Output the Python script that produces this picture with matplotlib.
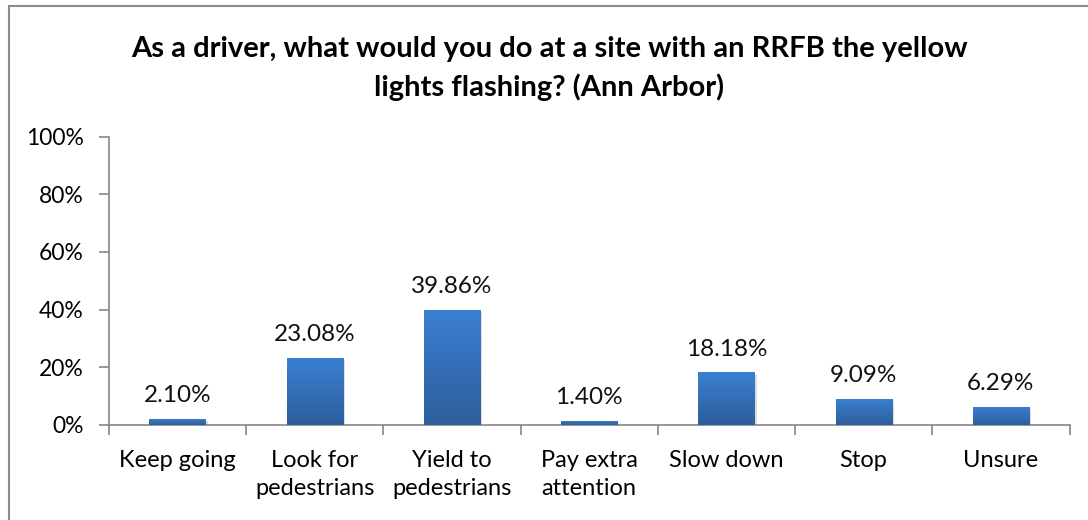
import numpy as np
import matplotlib.pyplot as plt
from matplotlib.lines import Line2D
from matplotlib.colors import LinearSegmentedColormap
import matplotlib.patheffects as pe

plt.rcParams['font.family'] = ['Lato', 'DejaVu Sans']

# survey answers
categories = ['Keep going', 'Look for\npedestrians', 'Yield to\npedestrians',
              'Pay extra\nattention', 'Slow down', 'Stop', 'Unsure']
shares = [2.10, 23.08, 39.86, 1.40, 18.18, 9.09, 6.29]
yticks = [0, 20, 40, 60, 80, 100]

fig = plt.figure(figsize=(10.88, 5.2), dpi=100)
ax = fig.add_axes([0.100, 0.183, 0.883, 0.554])

x = np.arange(len(categories))
bars = ax.bar(x, shares, width=0.41, color='#3570bd', zorder=2,
              path_effects=[pe.SimplePatchShadow(offset=(1.5, -1.5), shadow_rgbFace='#b0b0b0', alpha=0.45),
                            pe.Normal()])

# vertical gradient on each bar (lighter top, darker bottom)
grad = np.linspace(0, 1, 100).reshape(-1, 1)
cmap = LinearSegmentedColormap.from_list('b', ['#2d5e9c', '#3b7fd2'])
for b in bars:
    x0, w, h = b.get_x(), b.get_width(), b.get_height()
    im = ax.imshow(grad, extent=[x0, x0 + w, 0, h], origin='lower', cmap=cmap,
                   aspect='auto', zorder=3)
    im.set_clip_path(b)

for xi, v in zip(x, shares):
    ax.text(xi, v + 4.5, '%.2f%%' % v, ha='center', va='bottom', fontsize=17.5, color='#111111')

ax.set_xlim(-0.5, len(categories) - 0.5)
ax.set_ylim(0, 100)
ax.set_yticks(yticks)
ax.set_yticklabels(['%d%%' % t for t in yticks], fontsize=16.5)
ax.set_xticks(x)
ax.set_xticklabels(categories, fontsize=17, linespacing=1.45)
ax.set_xticks(np.arange(len(categories) + 1) - 0.5, minor=True)
ax.tick_params(axis='x', which='major', length=0, pad=18)
ax.tick_params(axis='x', which='minor', length=7, color='#868686', width=1.2)
ax.tick_params(axis='y', length=7, color='#868686', width=1.2, pad=11)

for s in ['top', 'right']:
    ax.spines[s].set_visible(False)
for s in ['left', 'bottom']:
    ax.spines[s].set_color('#868686')
    ax.spines[s].set_linewidth(1.2)

fig.text(0.505, 0.868, 'As a driver, what would you do at a site with an RRFB the yellow\nlights flashing? (Ann Arbor)',
         ha='center', va='center', fontsize=21, fontweight='bold', linespacing=1.5)

# chart frame (left and top edges visible)
fig.add_artist(Line2D([8.5 / 1088, 8.5 / 1088], [0, 1 - 5.5 / 520], color='#8c8c8c', lw=1.5))
fig.add_artist(Line2D([8.5 / 1088, 1], [1 - 5.5 / 520, 1 - 5.5 / 520], color='#8c8c8c', lw=1.5))

fig.savefig('out.png', dpi=100)
